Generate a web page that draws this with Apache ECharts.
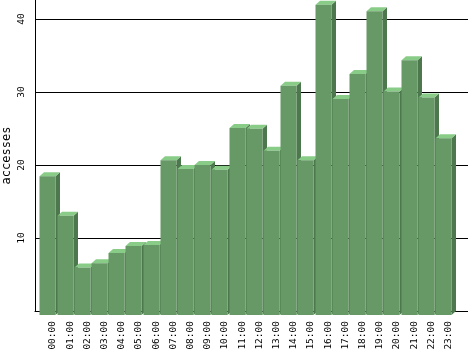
<!DOCTYPE html>
<html>
<head>
<meta charset="utf-8">
<script src="https://cdn.jsdelivr.net/npm/echarts@6/dist/echarts.min.js"></script>
<style>
  html, body { margin: 0; padding: 0; background: #fff; }
  #chart { width: 468px; height: 351px; }
</style>
</head>
<body>
<div id="chart"></div>
<script>
// 시간대별 접속 수
let hours = ["00:00", "01:00", "02:00", "03:00", "04:00", "05:00", "06:00", "07:00",
  "08:00", "09:00", "10:00", "11:00", "12:00", "13:00", "14:00", "15:00",
  "16:00", "17:00", "18:00", "19:00", "20:00", "21:00", "22:00", "23:00"];
let accesses = [19.0, 13.6, 6.5, 7.1, 8.5, 9.45, 9.6, 21.2,
  20.0, 20.55, 19.9, 25.6, 25.5, 22.5, 31.4, 21.2,
  42.5, 29.6, 33.0, 41.6, 30.6, 34.9, 29.8, 24.2];
let yTicks = [10, 20, 30, 40];

let yMax = 42.6;
let font = "DejaVu Sans Mono";

let chart = echarts.init(document.getElementById("chart"));

// 3D 막대 그리기
function renderBar(params, api) {
  let top = api.coord([api.value(0), api.value(1)]);
  let base = api.coord([api.value(0), 0]);
  let band = api.size([1, 0])[0];
  let x0 = Math.round(top[0] - band / 2);
  let w = Math.round(band * 0.92);
  let dx = 4.5, dy = 4;
  let ty = top[1], by = base[1];
  return {
    type: "group",
    children: [
      {
        type: "polygon",
        shape: { points: [[x0 - dx + w, ty + dy], [x0 + w, ty], [x0 + w, by], [x0 - dx + w, by + dy]] },
        style: { fill: "#4d774d" }
      },
      {
        type: "polygon",
        shape: { points: [[x0 - dx, ty + dy], [x0 - dx + w, ty + dy], [x0 + w, ty], [x0, ty]] },
        style: { fill: "#88cc88" }
      },
      {
        type: "rect",
        shape: { x: x0 - dx, y: ty + dy, width: w, height: by - ty },
        style: { fill: "#669966" }
      }
    ]
  };
}

let option = {
  animation: false,
  grid: [
    { left: 44.4, right: 10.8, top: 0, bottom: 40, outerBoundsMode: "none", containLabel: false },
    { left: 35, right: 0, top: 0, bottom: 40, outerBoundsMode: "none", containLabel: false }
  ],
  xAxis: [
    {
      gridIndex: 0,
      type: "category",
      data: hours,
      axisLine: { show: false },
      axisTick: { show: false },
      axisLabel: {
        rotate: 90,
        margin: 10,
        interval: 0,
        color: "#000",
        fontFamily: font,
        fontSize: 9.5
      }
    },
    {
      gridIndex: 1,
      type: "value",
      min: 0,
      max: 1,
      axisLine: { show: true, lineStyle: { color: "#000", width: 1 } },
      axisTick: { show: false },
      axisLabel: { show: false },
      splitLine: { show: false }
    }
  ],
  yAxis: [
    {
      gridIndex: 0,
      type: "value",
      min: 0,
      max: yMax,
      show: false
    },
    {
      gridIndex: 1,
      type: "value",
      min: 0,
      max: yMax,
      interval: 10,
      name: "accesses",
      nameLocation: "middle",
      nameRotate: 90,
      nameGap: 22,
      nameMoveOverlap: false,
      nameTextStyle: { color: "#000", fontFamily: font, fontSize: 12 },
      axisLine: { show: true, lineStyle: { color: "#000", width: 1 } },
      axisTick: { show: false },
      axisLabel: {
        rotate: 90,
        margin: 8,
        color: "#000",
        fontFamily: font,
        fontSize: 9.5,
        showMaxLabel: false,
        formatter: function (v) {
          return yTicks.indexOf(v) >= 0 ? String(v) : "";
        }
      },
      splitLine: {
        show: true,
        showMinLine: false,
        showMaxLine: false,
        lineStyle: { color: "#000", width: 1 }
      }
    }
  ],
  series: [
    {
      type: "custom",
      xAxisIndex: 0,
      yAxisIndex: 0,
      renderItem: renderBar,
      data: accesses.map(function (v, i) { return [i, v]; })
    }
  ]
};
chart.setOption(option);
</script>
</body>
</html>
